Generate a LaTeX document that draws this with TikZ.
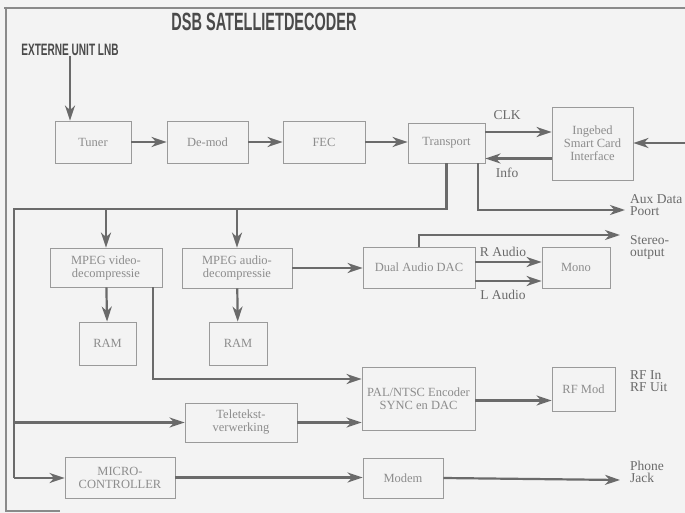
\documentclass[tikz,border=0pt]{standalone}
\usepackage{graphicx}
\usepackage{fontspec}
\setmainfont{Liberation Serif}
\newfontfamily\headfont{Liberation Sans}
\usetikzlibrary{arrows.meta}
\definecolor{bgc}{HTML}{F3F3F3}
\definecolor{linegray}{HTML}{6A6A6A}
\definecolor{boxgray}{HTML}{9A9A9A}
\definecolor{txtgray}{HTML}{8C8C8C}
\definecolor{lblgray}{HTML}{6A6A6A}
\definecolor{titlegray}{HTML}{4A4A4A}
\definecolor{framegray}{HTML}{8A8A8A}
\begin{document}
\begin{tikzpicture}[x=1pt,y=-1pt,
  blk/.style={draw=boxgray, line width=0.8pt, align=center, text=txtgray,
    font=\fontsize{12.5}{13}\selectfont, inner sep=0pt},
  arr/.style={draw=linegray, line width=2.2pt, -{Stealth[length=15pt,width=10pt,inset=4.5pt]}},
  wire/.style={draw=linegray, line width=2.2pt},
  lbl/.style={text=lblgray, font=\fontsize{13.5}{12}\selectfont, align=left, inner sep=0pt},
  head/.style={text=titlegray, inner sep=0pt}]
\fill[bgc] (0,0) rectangle (685,513);
\useasboundingbox (0,0) rectangle (685,513);
% frame
\draw[framegray, line width=2pt] (4,8) -- (686,8);
\draw[framegray, line width=2pt] (6,7) -- (6,512);
\draw[framegray, line width=1.5pt] (6,511) -- (60,511);
% titles
\node[head, font=\headfont\bfseries\fontsize{25}{25}\selectfont] (title) at (264,22) {\scalebox{0.58}[1]{DSB SATELLIETDECODER}};
\node[head, font=\headfont\bfseries\fontsize{16.5}{16.5}\selectfont] (lnb) at (70,50) {\scalebox{0.61}[1]{EXTERNE UNIT LNB}};
% blocks
\node[blk, minimum width=76pt, minimum height=42pt] (tuner) at (93,142) {Tuner};
\node[blk, minimum width=81pt, minimum height=42pt] (demod) at (207.5,142) {De-mod};
\node[blk, minimum width=82pt, minimum height=42pt] (fec) at (324,142) {FEC};
\node[blk, minimum width=77pt, minimum height=40pt] (transport) at (446.5,143) {Transport};
\node[blk, minimum width=81pt, minimum height=73pt] (smart) at (592.5,143.5) {Ingebed\\Smart Card\\Interface};
\node[blk, minimum width=112pt, minimum height=39pt] (video) at (106,267.5) {MPEG video-\\decompressie};
\node[blk, minimum width=110pt, minimum height=40pt] (audio) at (237,268) {MPEG audio-\\decompressie};
\node[blk, minimum width=57pt, minimum height=43pt] (ram1) at (107.5,343.5) {RAM};
\node[blk, minimum width=58pt, minimum height=43pt] (ram2) at (238,343.5) {RAM};
\node[blk, minimum width=112pt, minimum height=41pt] (dac) at (419,267.5) {Dual Audio DAC};
\node[blk, minimum width=68pt, minimum height=41pt] (mono) at (576,267.5) {Mono};
\node[blk, minimum width=113pt, minimum height=63pt] (pal) at (418.5,398.5) {PAL/NTSC Encoder\\SYNC en DAC};
\node[blk, minimum width=63pt, minimum height=44pt] (rfmod) at (583.5,389) {RF Mod};
\node[blk, minimum width=112pt, minimum height=39pt] (tele) at (241,422.5) {Teletekst-\\verwerking};
\node[blk, minimum width=110pt, minimum height=41pt] (micro) at (120,477.5) {MICRO-\\CONTROLLER};
\node[blk, minimum width=80pt, minimum height=40pt] (modem) at (403,478) {Modem};
% labels
\node[lbl] (clk) at (507,115) {CLK};
\node[lbl] (info) at (507,173) {Info};
\node[lbl, anchor=west] (aux) at (630,205.5) {Aux Data\\Poort};
\node[lbl, anchor=west] (stereo) at (630,247.5) {Stereo-\\output};
\node[lbl] (ra) at (503,252) {R Audio};
\node[lbl] (la) at (503,295) {L Audio};
\node[lbl, anchor=west] (rf) at (630,381.5) {RF In\\RF Uit};
\node[lbl, anchor=west] (phone) at (630,471.5) {Phone\\Jack};
% coordinates
\coordinate (clkA) at ([yshift=11pt]transport.east);
\coordinate (infoA) at ([yshift=-15pt]smart.west);
\coordinate (extR) at (686,143);
\coordinate (busY) at (14,209);
\coordinate (busM) at (14,422.5);
\coordinate (busB) at (14,478);
\coordinate (auxT) at ([xshift=31.5pt]transport.south);
\coordinate (auxE) at (625,210);
\coordinate (stE) at (620,235);
\coordinate (rA) at ([yshift=5.5pt]dac.east);
\coordinate (lA) at ([yshift=-13.5pt]dac.east);
\coordinate (vidL) at ([xshift=47pt]video.south);
\coordinate (palV) at ([yshift=19.5pt]pal.west);
\coordinate (palR) at ([yshift=-2pt]pal.east);
\coordinate (phE) at (620,480);
% connectors
\draw[arr] (lnb.south) -- (lnb.south |- tuner.north);
\draw[arr] (tuner) -- (demod);
\draw[arr] (demod) -- (fec);
\draw[arr] (fec.east) -- (fec.east -| transport.west);
\draw[arr] (clkA) -- (clkA -| smart.west);
\draw[arr] (infoA) -- (infoA -| transport.east);
\draw[arr] (extR) -- (extR -| smart.east);
\draw[wire] (transport.south) |- (busY) -- (busB);
\draw[arr] (busB) -- (busB -| micro.west);
\draw[arr] (busM) -- (busM -| tele.west);
\draw[arr] (video.north |- busY) -- (video.north);
\draw[arr] (audio.north |- busY) -- (audio.north);
\draw[arr] (auxT) |- (auxE);
\draw[arr] (video) -- (ram1);
\draw[arr] (audio) -- (ram2);
\draw[arr] (vidL) |- (palV);
\draw[arr] (audio.east) -- (audio.east -| dac.west);
\draw[arr] (dac.north) |- (stE);
\draw[arr] (rA) -- (rA -| mono.west);
\draw[arr] (lA) -- (lA -| mono.west);
\draw[arr] (tele.east) -- (tele.east -| pal.west);
\draw[arr] (palR) -- (palR -| rfmod.west);
\draw[arr] (micro.east) -- (micro.east -| modem.west);
\draw[arr] (modem.east) -- (phE);
\end{tikzpicture}
\end{document}
